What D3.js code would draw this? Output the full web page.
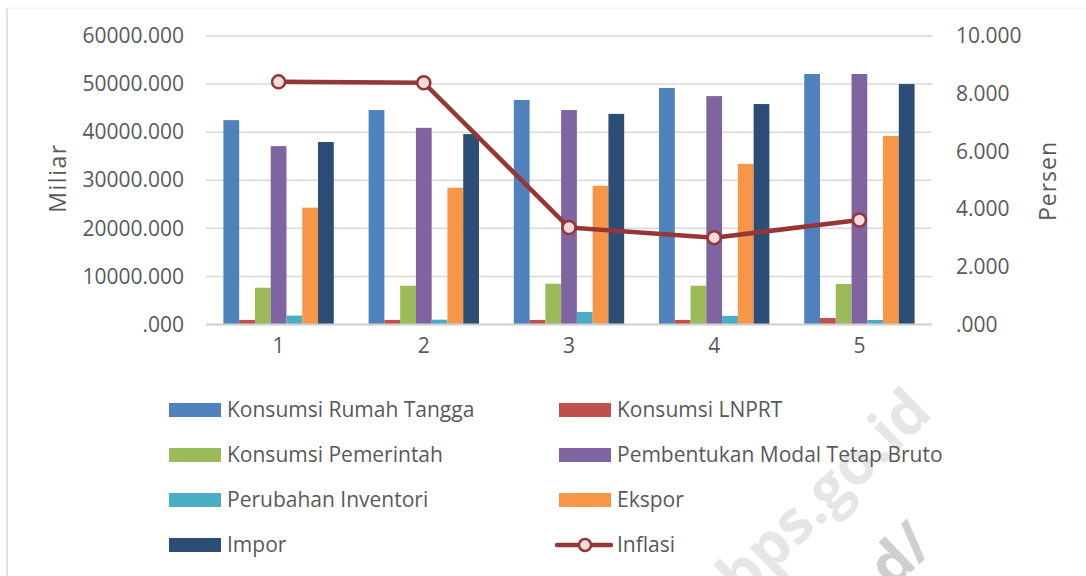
<!DOCTYPE html>
<meta charset="utf-8">
<style>
body { margin: 0; background-color: #fff; }
text { font-family: "Open Sans", "Noto Sans", sans-serif; fill: #595959; }
.grid line { stroke: #d9d9d9; stroke-width: 1.5px; }
</style>
<body>
<script src="https://d3js.org/d3.v7.min.js"></script>
<script>
  // data
  var categories = ["1", "2", "3", "4", "5"];
  var seriesNames = ["Konsumsi Rumah Tangga", "Konsumsi LNPRT", "Konsumsi Pemerintah",
    "Pembentukan Modal Tetap Bruto", "Perubahan Inventori", "Ekspor", "Impor"];
  var rumahTangga = [42500, 44600, 46700, 49200, 52100];
  var lnprt = [950, 950, 950, 950, 1350];
  var pemerintah = [7650, 8070, 8490, 8070, 8420];
  var pmtb = [37100, 40900, 44600, 47500, 52100];
  var inventori = [1850, 1000, 2600, 1800, 950];
  var ekspor = [24300, 28450, 28850, 33400, 39200];
  var impor = [37950, 39600, 43800, 45850, 50000];
  var inflasi = [8.41, 8.38, 3.36, 3.01, 3.62];
  var leftTicks = [0, 10000, 20000, 30000, 40000, 50000, 60000];
  var rightTicks = [0, 2, 4, 6, 8, 10];

  var seriesValues = [rumahTangga, lnprt, pemerintah, pmtb, inventori, ekspor, impor];
  var colors = ["#4f81bd", "#c0504d", "#9bbb59", "#8064a2", "#4bacc6", "#f79646", "#2c4d75"];
  var lineColor = "#953735", markerFill = "#f2dcdb";

  var W = 1086, H = 576;
  var plot = {left: 206, right: 932, top: 36, bottom: 324.5};

  var svg = d3.select("body").append("svg")
      .attr("width", W).attr("height", H);

  // chart frame (only left/top edges visible)
  svg.append("line").attr("x1", 7).attr("x2", 7).attr("y1", 8).attr("y2", H)
      .attr("stroke", "#d9d9d9").attr("stroke-width", 1.5);
  svg.append("line").attr("x1", 7).attr("x2", W).attr("y1", 8).attr("y2", 8)
      .attr("stroke", "#f2f2f2").attr("stroke-width", 1);

  // faint watermark, behind everything else
  svg.append("text").text("bps.go.id")
      .attr("transform", "translate(838,508) rotate(-44)")
      .attr("text-anchor", "middle")
      .style("font-size", "60px").style("font-weight", "bold")
      .style("fill", "#e6e6e6");
  svg.append("text").text("d/")
      .attr("transform", "translate(936,548) rotate(-44)")
      .attr("text-anchor", "end")
      .style("font-size", "58px").style("font-weight", "bold")
      .style("fill", "#cfcfcf");

  var x0 = d3.scaleBand().domain(categories)
      .range([plot.left, plot.right])
      .paddingInner(0.24).paddingOuter(0.12);
  var x1 = d3.scaleBand().domain(d3.range(seriesNames.length))
      .range([0, x0.bandwidth()]);
  var y = d3.scaleLinear().domain([0, 60000]).range([plot.bottom, plot.top]);
  var y2 = d3.scaleLinear().domain([0, 10]).range([plot.bottom, plot.top]);

  // gridlines
  svg.append("g").attr("class", "grid")
    .selectAll("line").data(leftTicks).enter().append("line")
      .attr("x1", plot.left).attr("x2", plot.right)
      .attr("y1", function(d) { return y(d); })
      .attr("y2", function(d) { return y(d); });

  // left axis
  var fmt = function(d) { return d === 0 ? ".000" : d3.format(".3f")(d); };
  var yAxisL = svg.append("g")
      .attr("transform", "translate(" + plot.left + ",0)")
      .call(d3.axisLeft(y).tickValues(leftTicks).tickFormat(fmt).tickSize(0).tickPadding(22));
  yAxisL.select(".domain").remove();
  yAxisL.selectAll("text").style("font-size", "21px").attr("fill", "#595959");

  // right axis
  var yAxisR = svg.append("g")
      .attr("transform", "translate(" + plot.right + ",0)")
      .call(d3.axisRight(y2).tickValues(rightTicks).tickFormat(fmt).tickSize(0).tickPadding(24));
  yAxisR.select(".domain").remove();
  yAxisR.selectAll("text").style("font-size", "21px").attr("fill", "#595959");

  // bars
  var groups = svg.append("g").selectAll("g")
      .data(categories).enter().append("g")
      .attr("transform", function(d) { return "translate(" + x0(d) + ",0)"; });
  groups.selectAll("rect")
      .data(function(c, i) { return seriesValues.map(function(s, k) { return {k: k, v: s[i]}; }); })
      .enter().append("rect")
      .attr("x", function(d) { return x1(d.k); })
      .attr("width", x1.bandwidth())
      .attr("y", function(d) { return y(d.v); })
      .attr("height", function(d) { return y(0) - y(d.v); })
      .attr("fill", function(d) { return colors[d.k]; });

  // baseline
  svg.append("line").attr("x1", plot.left).attr("x2", plot.right)
      .attr("y1", y(0)).attr("y2", y(0))
      .attr("stroke", "#d0d0d0").attr("stroke-width", 2);

  // x axis labels
  var xAxis = svg.append("g")
      .attr("transform", "translate(0," + plot.bottom + ")")
      .call(d3.axisBottom(x0).tickSize(0).tickPadding(14));
  xAxis.select(".domain").remove();
  xAxis.selectAll("text").style("font-size", "21px").attr("fill", "#595959");

  // inflation line
  var cx = function(i) { return x0(categories[i]) + x0.bandwidth() / 2; };
  var line = d3.line()
      .x(function(d, i) { return cx(i); })
      .y(function(d) { return y2(d); });
  svg.append("path").datum(inflasi)
      .attr("d", line)
      .attr("fill", "none").attr("stroke", lineColor).attr("stroke-width", 4.5)
      .attr("stroke-linejoin", "round");
  svg.append("g").selectAll("circle").data(inflasi).enter().append("circle")
      .attr("cx", function(d, i) { return cx(i); })
      .attr("cy", function(d) { return y2(d); })
      .attr("r", 6.5)
      .attr("fill", markerFill).attr("stroke", lineColor).attr("stroke-width", 2.5);

  // axis titles
  svg.append("text").text("Miliar")
      .attr("transform", "translate(66,178) rotate(-90)")
      .attr("text-anchor", "middle").style("font-size", "23px").style("letter-spacing", "1.5px");
  svg.append("text").text("Persen")
      .attr("transform", "translate(1056,181) rotate(-90)")
      .attr("text-anchor", "middle").style("font-size", "23px").style("letter-spacing", "1px");

  // legend
  var legendItems = seriesNames.map(function(n, k) { return {name: n, color: colors[k], type: "bar"}; });
  legendItems.push({name: "Inflasi", color: lineColor, type: "line"});
  var colX = [169, 559], rowY = [410, 455, 500, 545];
  var leg = svg.append("g").selectAll("g").data(legendItems).enter().append("g")
      .attr("transform", function(d, i) {
        return "translate(" + colX[i % 2] + "," + rowY[Math.floor(i / 2)] + ")";
      });
  leg.filter(function(d) { return d.type === "bar"; }).append("rect")
      .attr("x", 0).attr("y", -7).attr("width", 52).attr("height", 14)
      .attr("fill", function(d) { return d.color; });
  var lineLeg = leg.filter(function(d) { return d.type === "line"; });
  lineLeg.append("line").attr("x1", -2).attr("x2", 52).attr("y1", 0).attr("y2", 0)
      .attr("stroke", lineColor).attr("stroke-width", 4.5).attr("stroke-linecap", "round");
  lineLeg.append("circle").attr("cx", 26).attr("cy", 0).attr("r", 6)
      .attr("fill", markerFill).attr("stroke", lineColor).attr("stroke-width", 2.5);
  leg.append("text")
      .attr("x", 58).attr("y", 0).attr("dy", "0.35em")
      .style("font-size", "21px")
      .text(function(d) { return d.name; });
</script>
</body>
